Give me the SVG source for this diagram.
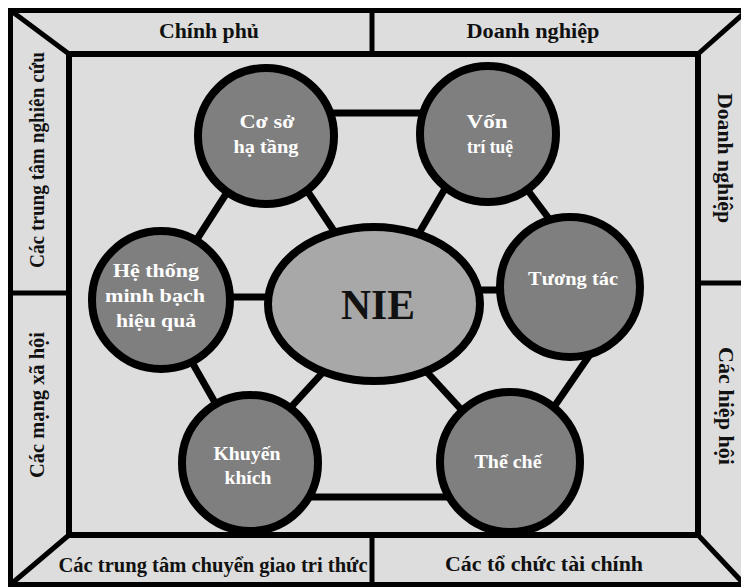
<svg xmlns="http://www.w3.org/2000/svg" width="741" height="587" viewBox="0 0 741 587">
<style>
.frame{fill:#dddddd;stroke:#000;stroke-width:5}
.edge{stroke:#000;stroke-width:5;fill:none}
.lbl{font-family:"Liberation Serif","Times New Roman",serif;font-weight:bold;font-size:20px;fill:#111;text-anchor:middle}
.conn{stroke:#000;stroke-width:7;fill:none}
.node{fill:#7f7f7f;stroke:#000;stroke-width:8}
.core{fill:#a8a8a8;stroke:#000;stroke-width:8}
.nt{font-family:"Liberation Serif","Times New Roman",serif;font-weight:bold;font-size:19px;fill:#fff;text-anchor:middle}
.ct{font-family:"Liberation Serif","Times New Roman",serif;font-weight:bold;font-size:43px;fill:#111;text-anchor:middle}
</style>
<rect width="741" height="587" fill="#fff"/>
<g id="frame">
<rect class="frame" x="10.5" y="10.5" width="745" height="574"/>
<rect class="frame" x="69" y="54" width="629" height="481" style="stroke-width:6"/>
<line class="edge" x1="10" y1="10" x2="69" y2="54"/>
<line class="edge" x1="698" y1="54" x2="750" y2="8"/>
<line class="edge" x1="69" y1="535" x2="10" y2="585"/>
<line class="edge" x1="698" y1="535" x2="745" y2="585"/>
<line class="edge" x1="372" y1="10" x2="372" y2="54"/>
<line class="edge" x1="372" y1="535" x2="372" y2="585"/>
<line class="edge" x1="10" y1="293" x2="69" y2="293"/>
<line class="edge" x1="698" y1="283" x2="745" y2="283"/>
</g>
<g id="labels">
<text class="lbl" x="209" y="38" textLength="100" lengthAdjust="spacingAndGlyphs">Chính phủ</text>
<text class="lbl" x="533" y="38" textLength="133" lengthAdjust="spacingAndGlyphs">Doanh nghiệp</text>
<text class="lbl" x="213" y="572" textLength="309" lengthAdjust="spacingAndGlyphs">Các trung tâm chuyển giao tri thức</text>
<text class="lbl" x="544" y="571" textLength="198" lengthAdjust="spacingAndGlyphs">Các tổ chức tài chính</text>
<text class="lbl" transform="translate(44,160) rotate(-90)" textLength="216" lengthAdjust="spacingAndGlyphs">Các trung tâm nghiên cứu</text>
<text class="lbl" transform="translate(44,405) rotate(-90)" textLength="146" lengthAdjust="spacingAndGlyphs">Các mạng xã hội</text>
<text class="lbl" transform="translate(718,158) rotate(90)" textLength="130" lengthAdjust="spacingAndGlyphs">Doanh nghiệp</text>
<text class="lbl" transform="translate(719,406) rotate(90)" textLength="118" lengthAdjust="spacingAndGlyphs">Các hiệp hội</text>
</g>
<g id="connectors">
<line class="conn" x1="300" y1="113" x2="450" y2="113"/>
<line class="conn" x1="235" y1="180" x2="190" y2="250"/>
<line class="conn" x1="300" y1="180" x2="340" y2="240"/>
<line class="conn" x1="450" y1="180" x2="415" y2="240"/>
<line class="conn" x1="520" y1="180" x2="565" y2="240"/>
<line class="conn" x1="200" y1="297" x2="300" y2="297"/>
<line class="conn" x1="440" y1="290" x2="530" y2="290"/>
<line class="conn" x1="185" y1="350" x2="225" y2="420"/>
<line class="conn" x1="325" y1="370" x2="270" y2="430"/>
<line class="conn" x1="425" y1="370" x2="480" y2="430"/>
<line class="conn" x1="600" y1="340" x2="545" y2="420"/>
<line class="conn" x1="260" y1="497" x2="490" y2="497"/>
</g>
<g id="n-coso"><circle class="node" cx="266" cy="136" r="68"/><text class="nt" x="267" y="128" textLength="55" lengthAdjust="spacingAndGlyphs">Cơ sở</text><text class="nt" x="266" y="153" textLength="65" lengthAdjust="spacingAndGlyphs">hạ tầng</text></g>
<g id="n-von"><circle class="node" cx="488" cy="134" r="68"/><text class="nt" x="487" y="128" textLength="41" lengthAdjust="spacingAndGlyphs">Vốn</text><text class="nt" x="490" y="153" textLength="46" lengthAdjust="spacingAndGlyphs">trí tuệ</text></g>
<g id="n-hethong"><circle class="node" cx="161" cy="300" r="69"/><text class="nt" x="156" y="277" textLength="86" lengthAdjust="spacingAndGlyphs">Hệ thống</text><text class="nt" x="155" y="302" textLength="100" lengthAdjust="spacingAndGlyphs">minh bạch</text><text class="nt" x="156" y="327" textLength="80" lengthAdjust="spacingAndGlyphs">hiệu quả</text></g>
<g id="n-nie"><ellipse class="core" cx="374" cy="304" rx="106" ry="77"/><text class="ct" x="378" y="319" textLength="74" lengthAdjust="spacingAndGlyphs">NIE</text></g>
<g id="n-tuongtac"><circle class="node" cx="570" cy="287" r="70"/><text class="nt" x="573" y="285" textLength="90" lengthAdjust="spacingAndGlyphs">Tương tác</text></g>
<g id="n-khuyenkhich"><circle class="node" cx="250" cy="463" r="68"/><text class="nt" x="247" y="460" textLength="67" lengthAdjust="spacingAndGlyphs">Khuyến</text><text class="nt" x="248" y="484" textLength="47" lengthAdjust="spacingAndGlyphs">khích</text></g>
<g id="n-theche"><circle class="node" cx="510" cy="462" r="70"/><text class="nt" x="508" y="468" textLength="67" lengthAdjust="spacingAndGlyphs">Thể chế</text></g>
</svg>
